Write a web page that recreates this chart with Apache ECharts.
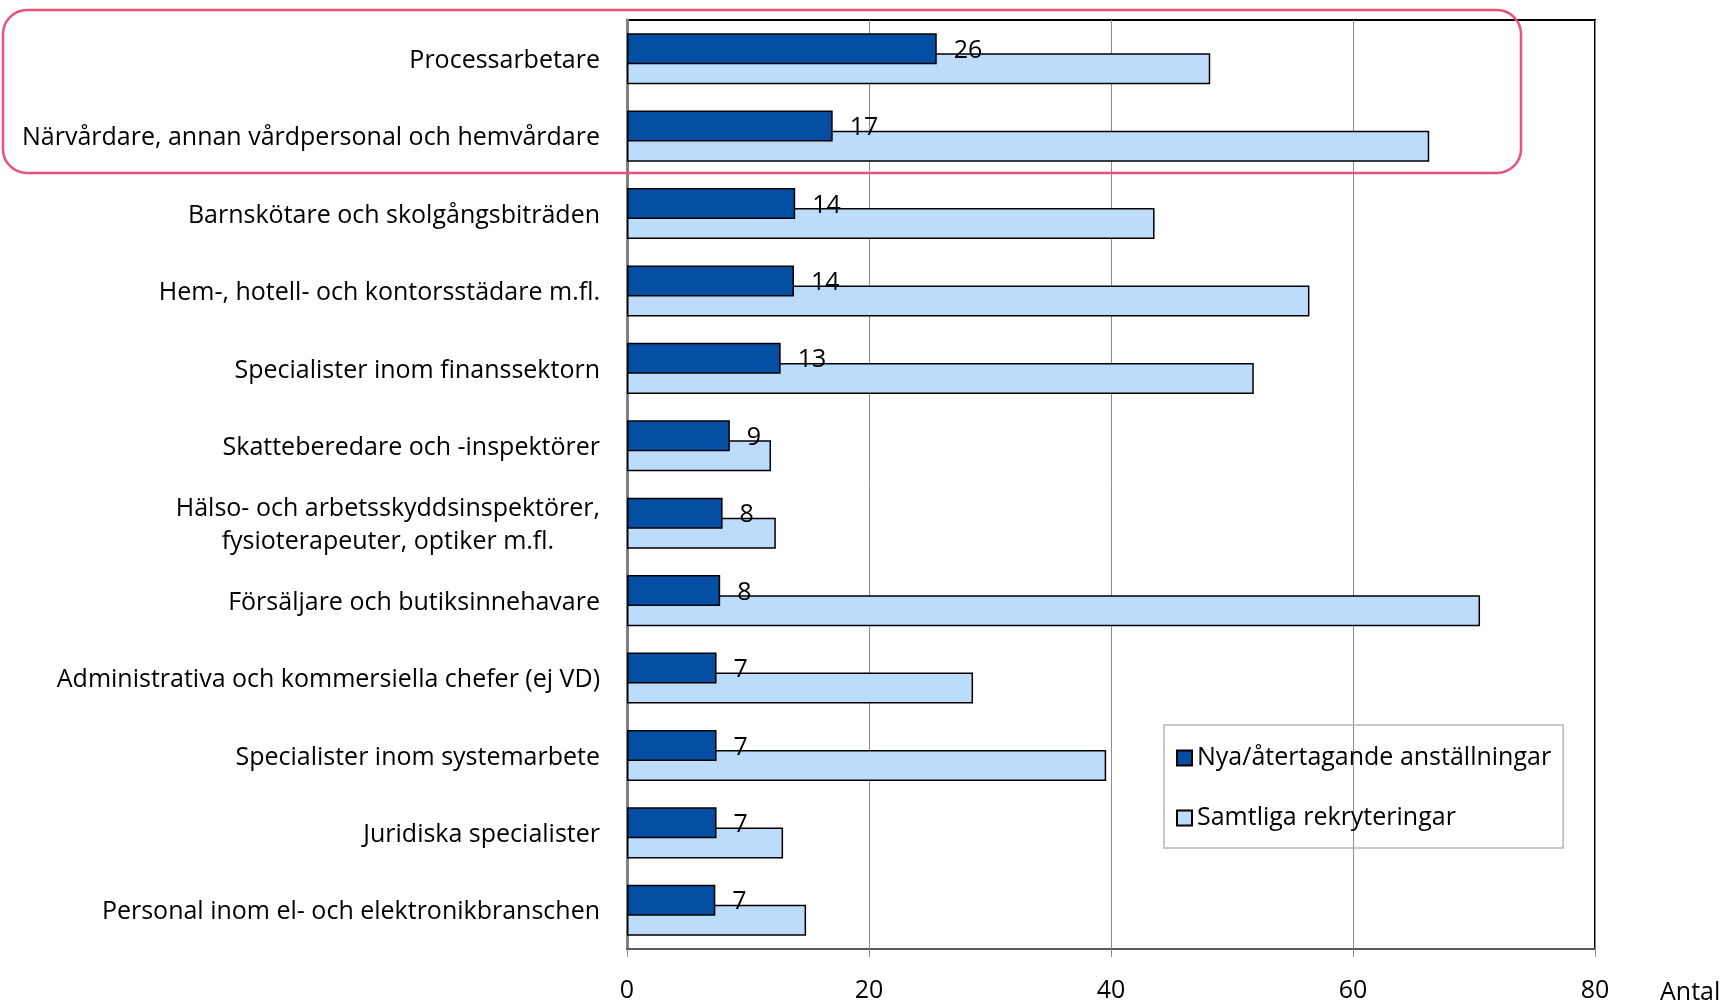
<!DOCTYPE html>
<html lang="sv" style="height: 100%">
<head>
  <meta charset="utf-8">
  <style>
    html, body { height: 100%; margin: 0; background: #fff; }
    #chart { width: 1727px; height: 1003px; }
  </style>
</head>
<body>
  <div id="chart"></div>
  <script src="https://cdn.jsdelivr.net/npm/echarts@6/dist/echarts.min.js"></script>
  <script>
    // yrken (uppifrån och ned)
    const categories = [
      'Processarbetare',
      'Närvårdare, annan vårdpersonal och hemvårdare',
      'Barnskötare och skolgångsbiträden',
      'Hem-, hotell- och kontorsstädare m.fl.',
      'Specialister inom finanssektorn',
      'Skatteberedare och -inspektörer',
      'Hälso- och arbetsskyddsinspektörer,\nfysioterapeuter, optiker m.fl.',
      'Försäljare och butiksinnehavare',
      'Administrativa och kommersiella chefer (ej VD)',
      'Specialister inom systemarbete',
      'Juridiska specialister',
      'Personal inom el- och elektronikbranschen'
    ];
    // Nya/återtagande anställningar
    const nyaValues = [25.6, 17.0, 13.9, 13.8, 12.7, 8.5, 7.9, 7.7, 7.4, 7.4, 7.4, 7.3];
    // Samtliga rekryteringar
    const samtligaValues = [48.2, 66.3, 43.6, 56.4, 51.8, 11.9, 12.3, 70.5, 28.6, 39.6, 12.9, 14.8];
    const xTicks = { min: 0, max: 80, interval: 20 };

    const FONT = 'Open Sans';
    const FS = 25;
    const chart = echarts.init(document.getElementById('chart'), null, { renderer: 'canvas' });

    const option = {
      animation: false,
      textStyle: { fontFamily: FONT },
      title: {
        text: 'Antal',
        left: 1660, top: 980,
        padding: 0,
        textStyle: { fontFamily: FONT, fontSize: FS, fontWeight: 'normal', color: '#000' }
      },
      grid: {
        left: 627, right: 132, top: 20, bottom: 52,
        show: true, borderColor: '#000', borderWidth: 2
      },
      legend: {
        data: ['Nya/återtagande anställningar', 'Samtliga rekryteringar'],
        orient: 'vertical',
        left: 1164, top: 725,
        padding: [18, 12, 15, 12],
        itemGap: 30,
        itemWidth: 15, itemHeight: 15,
        icon: 'rect',
        borderColor: '#b5b5b5', borderWidth: 1.5,
        textStyle: { fontFamily: FONT, fontSize: FS, color: '#000', lineHeight: 30 }
      },
      xAxis: {
        type: 'value',
        min: xTicks.min, max: xTicks.max, interval: xTicks.interval,
        axisLine: { show: true, lineStyle: { color: '#5a5a5a', width: 2 } },
        axisTick: { show: true, length: 8, lineStyle: { color: '#8c8c8c' } },
        axisLabel: { fontFamily: FONT, fontSize: FS, color: '#000', margin: 29 },
        splitLine: { show: true, lineStyle: { color: '#8c8c8c', width: 1 } }
      },
      yAxis: {
        type: 'category',
        inverse: true,
        data: categories,
        axisLine: { show: true, lineStyle: { color: '#808080', width: 3 } },
        axisTick: { show: false },
        axisLabel: {
          margin: 27,
          color: '#000',
          fontFamily: FONT,
          fontSize: FS,
          lineHeight: 33,
          padding: [4, 0, 0, 0],
          formatter: function (v) {
            return v.split('\n').map(function (s) { return '{c|' + s + '}'; }).join('\n');
          },
          rich: {
            c: { align: 'center', fontFamily: FONT, fontSize: FS, lineHeight: 33, color: '#000' }
          }
        }
      },
      series: [
        {
          name: 'Nya/återtagande anställningar',
          type: 'bar',
          z: 3,
          barWidth: 31,
          barGap: '-35%',
          data: nyaValues,
          itemStyle: { color: '#044fa3', borderColor: '#000', borderWidth: 1.5 },
          label: {
            show: true,
            position: 'right',
            distance: 17,
            offset: [0, 2],
            fontFamily: FONT,
            fontSize: FS,
            color: '#000',
            formatter: function (p) { return Math.round(p.value); }
          }
        },
        {
          name: 'Samtliga rekryteringar',
          type: 'bar',
          z: 2,
          barWidth: 31,
          barGap: '-35%',
          data: samtligaValues,
          itemStyle: { color: '#bddcfb', borderColor: '#000', borderWidth: 1.5 }
        }
      ],
      graphic: [
        {
          type: 'rect',
          z: 100,
          silent: true,
          shape: { x: 3, y: 10, width: 1518, height: 163, r: 24 },
          style: { fill: 'none', stroke: '#e8537a', lineWidth: 2.5 }
        }
      ]
    };

    chart.setOption(option);
  </script>
</body>
</html>
